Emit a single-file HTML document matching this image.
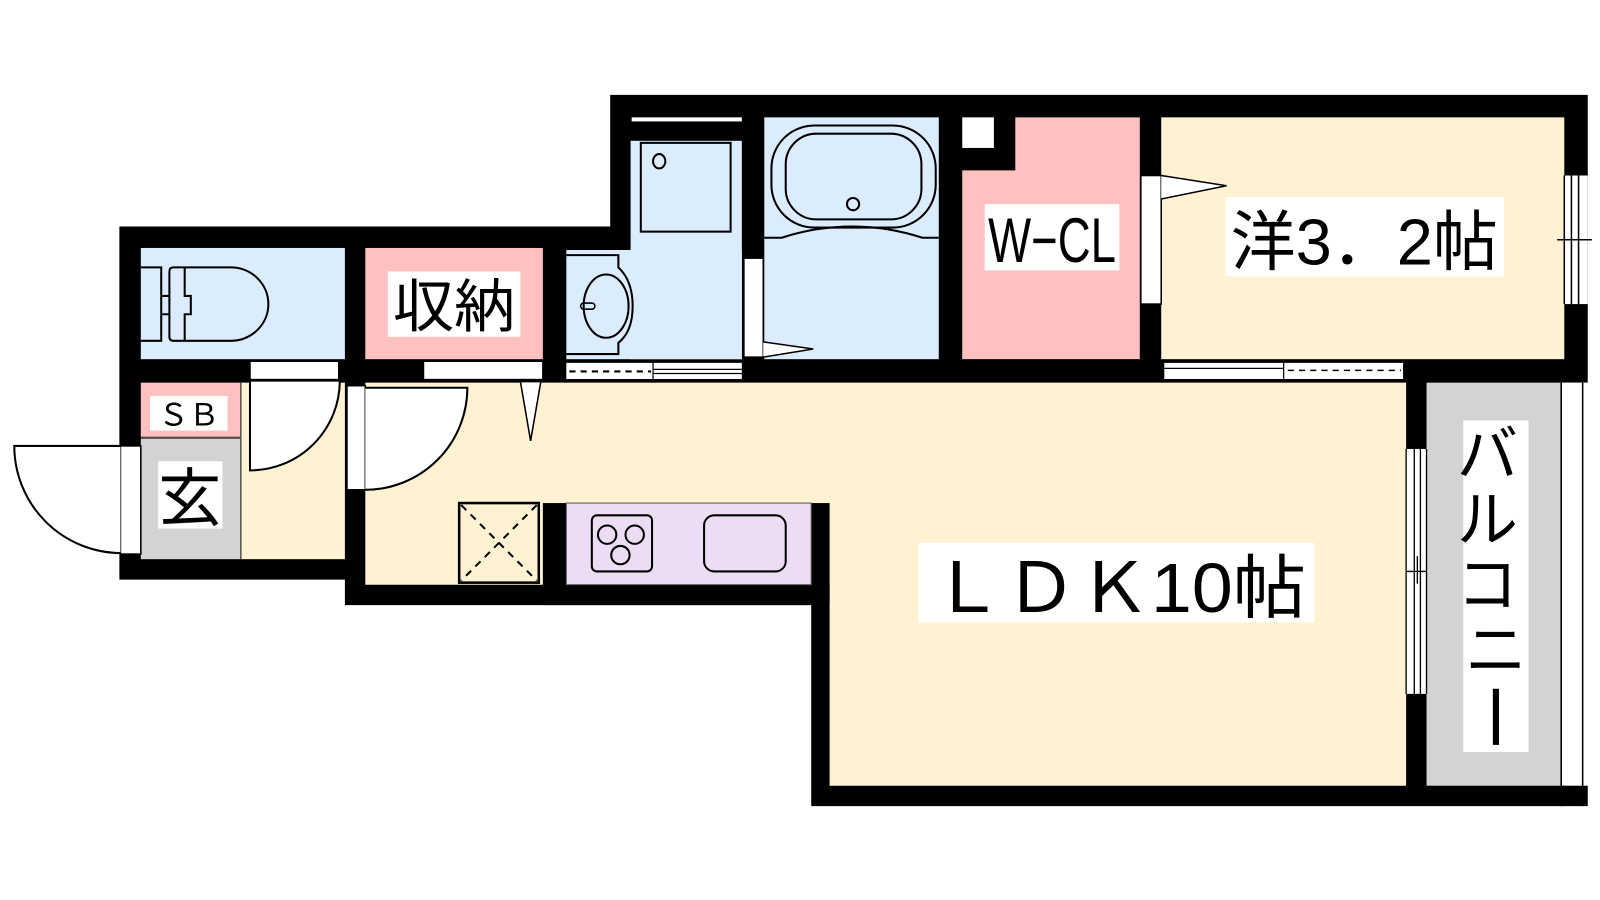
<!DOCTYPE html>
<html><head><meta charset="utf-8"><style>
html,body{margin:0;padding:0;background:#fff;}
svg{display:block}
text{font-family:"Liberation Sans","Noto Sans CJK JP",sans-serif;fill:#000}
</style></head><body>
<svg width="1600" height="900" viewBox="0 0 1568 882" preserveAspectRatio="none" xmlns="http://www.w3.org/2000/svg">
<rect width="1568" height="882" fill="#fff"/>
<polygon points="117,222 598,222 598,93 1556,93 1556,375 1533,375 1533,790 795,790 795,593 338,593 338,568 117,568" fill="#000"/>
<rect x="138" y="243" width="200" height="109" fill="#dbecfd"/>
<g fill="none" stroke="#000" stroke-width="2">
<path d="M138,262 H158 V334 H138"/>
<path d="M158,290 H166 M158,308 H166"/>
<path d="M170,262 H226 A37,36 0 0 1 226,334 H170 Q166,334 166,330 V266 Q166,262 170,262 Z"/>
<path d="M181,262 V290 H187 V308 H181 V334"/>
</g>
<rect x="358" y="243" width="174" height="109" fill="#ffc0c0"/>
<rect x="380" y="266" width="130" height="64" fill="#fff"/>
<text x="445" y="320" font-size="56" text-anchor="middle" textLength="120" lengthAdjust="spacingAndGlyphs">収納</text>
<rect x="555" y="245" width="172" height="107" fill="#dbecfd"/>
<rect x="618" y="138" width="109" height="214" fill="#dbecfd"/>
<rect x="619" y="115" width="108" height="4" fill="#fff"/>
<rect x="628" y="140" width="88" height="87" fill="none" stroke="#000" stroke-width="2"/>
<ellipse cx="646" cy="158" rx="6" ry="7" fill="none" stroke="#000" stroke-width="2"/>
<path d="M555,250 H606 V262 Q620,275 620,300 Q620,325 606,336 V347 H555" fill="none" stroke="#000" stroke-width="2"/>
<ellipse cx="594" cy="300" rx="22" ry="31" fill="none" stroke="#000" stroke-width="2"/>
<rect x="569" y="297" width="14" height="6" rx="3" fill="none" stroke="#000" stroke-width="1.5"/>
<rect x="555" y="355" width="172" height="17" fill="#fff"/>
<path d="M555,355 H727 M555,372 H727 M640,355 V372 M640,362 H727 M640,366 H727" stroke="#000" stroke-width="1.2"/>
<path d="M558,364 H638" stroke="#000" stroke-width="2" stroke-dasharray="6,5"/>
<rect x="749" y="115" width="171" height="237" fill="#dbecfd"/>
<rect x="756" y="123" width="161" height="100" rx="42" fill="none" stroke="#000" stroke-width="2"/>
<rect x="770" y="131" width="133" height="84" rx="30" fill="none" stroke="#000" stroke-width="2"/>
<ellipse cx="836" cy="200" rx="6" ry="6" fill="none" stroke="#000" stroke-width="2"/>
<path d="M749,233 H766 Q800,222 835,222 Q870,222 904,233 H920" fill="none" stroke="#000" stroke-width="2"/>
<rect x="729" y="253" width="19" height="97" fill="#fff" stroke="#000" stroke-width="1.5"/>
<path d="M748,335 L797,342 L748,350" fill="#fff" stroke="#000" stroke-width="1.5"/>
<polygon points="943,115 1117,115 1117,352 943,352 943,167 995,167 995,115" fill="#ffc0c0"/>
<rect x="943" y="115" width="31" height="30" fill="#fff"/>
<rect x="965" y="200" width="132" height="65" fill="#fff"/>
<text x="1031" y="257" font-size="62" text-anchor="middle" transform="translate(1031,0) scale(0.72,1) translate(-1031,0)">W−CL</text>
<rect x="1138" y="115" width="395" height="237" fill="#fff2d2"/>
<rect x="1118" y="172" width="20" height="126" fill="#fff" stroke="#000" stroke-width="1.5"/>
<path d="M1138,172 L1202,182 L1138,195" fill="#fff" stroke="#000" stroke-width="1.5"/>
<rect x="1533" y="172" width="23" height="126" fill="#fff"/>
<path d="M1533,172 V298 M1540,172 V298 M1547,172 V298 M1526,235 H1560" stroke="#000" stroke-width="1.5"/>
<rect x="1201" y="193" width="273" height="78" fill="#fff"/>
<text x="1337" y="259" font-size="64" text-anchor="middle" textLength="262" lengthAdjust="spacingAndGlyphs">洋3．2帖</text>
<rect x="1141" y="355" width="234" height="17" fill="#fff"/>
<path d="M1141,355 H1375 M1141,372 H1375 M1141,361 H1258 M1258,355 V372" stroke="#000" stroke-width="1.2"/>
<path d="M1262,363 H1373" stroke="#000" stroke-width="1.5" stroke-dasharray="6,5"/>
<polygon points="358,375 1378,375 1378,770 813,770 813,573 358,573" fill="#fff2d2"/>
<rect x="532" y="493" width="281" height="100" fill="#000"/>
<rect x="555" y="493" width="240" height="80" fill="#ecdcf4" stroke="#555" stroke-width="1"/>
<rect x="580" y="505" width="59" height="55" rx="5" fill="none" stroke="#000" stroke-width="2"/>
<g fill="none" stroke="#000" stroke-width="2">
<circle cx="595" cy="524" r="9"/><circle cx="622" cy="524" r="9"/><circle cx="608" cy="544" r="9"/>
</g>
<rect x="690" y="505" width="80" height="55" rx="10" fill="none" stroke="#000" stroke-width="2"/>
<rect x="450" y="493" width="78" height="78" fill="none" stroke="#000" stroke-width="2.5"/>
<path d="M452,495 L526,569 M526,495 L452,569" stroke="#000" stroke-width="2" stroke-dasharray="7,6"/>
<rect x="900" y="532" width="388" height="78" fill="#fff"/>
<text x="912" y="600" font-size="68" textLength="368" lengthAdjust="spacingAndGlyphs">ＬＤＫ10帖</text>
<rect x="340" y="378" width="18" height="102" fill="#fff" stroke="#000" stroke-width="1.5"/>
<path d="M358,380 H458 A100,100 0 0 1 358,480" fill="#fff" stroke="#000" stroke-width="2"/>
<rect x="415" y="354" width="117" height="18" fill="#fff" stroke="#000" stroke-width="1.5"/>
<path d="M510,374 L530,374 L520,432 Z" fill="#fff" stroke="#000" stroke-width="1.5"/>
<rect x="236" y="375" width="102" height="173" fill="#fff2d2"/>
<rect x="138" y="375" width="98" height="53" fill="#ffc0c0"/>
<rect x="138" y="430" width="98" height="118" fill="#d3d3d3"/>
<path d="M138,429 H236 M236,375 V548" stroke="#555" stroke-width="1.5"/>
<rect x="147" y="388" width="76" height="34" fill="#fff"/>
<text x="185" y="417" font-size="30" text-anchor="middle">ＳＢ</text>
<rect x="155" y="452" width="63" height="66" fill="#fff"/>
<text x="186" y="510" font-size="62" text-anchor="middle">玄</text>
<rect x="245" y="354" width="87" height="18" fill="#fff" stroke="#000" stroke-width="1.5"/>
<path d="M333,373 A88,88 0 0 1 245,461 V373 Z" fill="#fff" stroke="#000" stroke-width="2"/>
<rect x="118" y="437" width="20" height="106" fill="#fff" stroke="#000" stroke-width="1.5"/>
<path d="M118,437 H14 A105,105 0 0 0 118,542" fill="#fff" stroke="#000" stroke-width="2"/>
<rect x="1398" y="375" width="131" height="395" fill="#d3d3d3"/>
<rect x="1529" y="375" width="27" height="395" fill="#fff"/>
<path d="M1530,375 V770 M1551,375 V790" stroke="#000" stroke-width="1.5"/>
<rect x="1529" y="770" width="27" height="20" fill="#000"/>
<rect x="1378" y="440" width="20" height="240" fill="#fff"/>
<path d="M1378,440 V680 M1386,440 V680 M1392,440 V680 M1398,440 V680 M1378,560 H1398 M1389,545 V572" stroke="#000" stroke-width="1.3"/>
<rect x="1434" y="412" width="64" height="325" fill="#fff"/>
<text font-size="60" text-anchor="middle">
<tspan x="1466" y="466">バ</tspan>
<tspan x="1466" y="530">ル</tspan>
<tspan x="1466" y="594">コ</tspan>
<tspan x="1466" y="658">ニ</tspan>
</text>
<rect x="1463" y="675" width="6" height="55" fill="#000"/>
</svg>
</body></html>
